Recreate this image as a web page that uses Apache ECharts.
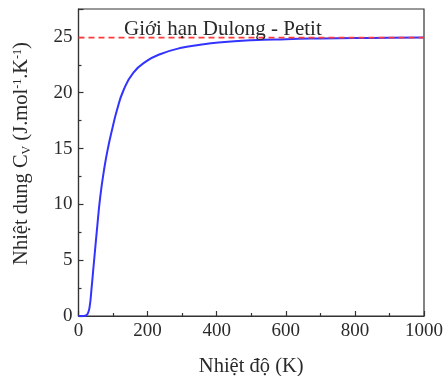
<!DOCTYPE html>
<html>
<head>
<meta charset="utf-8">
<script src="https://cdn.jsdelivr.net/npm/echarts@6/dist/echarts.min.js"></script>
<style>
  html, body { margin: 0; padding: 0; background: #fff; }
  #chart { width: 443px; height: 376px; }
</style>
</head>
<body>
<div id="chart"></div>
<script>
// temperature (K) and heat capacity Cv (J/mol/K)
const temps = [0, 15, 22, 28, 33, 37, 42, 47, 53, 63, 75, 87, 98, 111, 130, 159, 198, 236, 294, 352, 405, 500, 600, 700, 800, 900, 1000];
const cvValues = [0, 0, 0.05, 0.3, 1.0, 2.2, 3.9, 5.6, 7.6, 10.7, 13.3, 15.3, 16.8, 18.4, 20.2, 21.8, 22.85, 23.45, 24.0, 24.3, 24.5, 24.7, 24.8, 24.86, 24.9, 24.92, 24.94];
// Dulong - Petit limit
const limitX = [0, 1000];
const limitY = [24.94, 24.94];

const font = "'Liberation Serif', 'DejaVu Serif', serif";
const axisColor = "#333";
const textColor = "#2a2a2a";

const chart = echarts.init(document.getElementById("chart"));

const option = {
  animation: false,
  backgroundColor: "#fff",
  title: {
    text: "Giới hạn Dulong - Petit",
    left: 119,
    top: 14,
    textStyle: { fontFamily: font, fontSize: 21, fontWeight: "normal", color: textColor }
  },
  grid: {
    left: 78.5,
    right: 19,
    top: 9,
    bottom: 60,
    outerBoundsMode: "none",
    containLabel: false,
    show: true,
    borderColor: axisColor,
    borderWidth: 1.2,
    backgroundColor: "transparent"
  },
  xAxis: {
    type: "value",
    min: 0,
    max: 1000,
    interval: 200,
    name: "Nhiệt độ (K)",
    nameLocation: "middle",
    nameGap: 40,
    nameTextStyle: { fontFamily: font, fontSize: 20.5, color: textColor },
    axisLine: { show: true, lineStyle: { color: axisColor, width: 1.2 } },
    axisTick: { show: true, inside: true, length: 5, lineStyle: { color: axisColor, width: 1.2 } },
    minorTick: { show: true, splitNumber: 2, length: 3, lineStyle: { color: axisColor, width: 1.2 } },
    axisLabel: { fontFamily: font, fontSize: 19, color: textColor, margin: 6, formatter: (v) => String(v) },
    splitLine: { show: false }
  },
  yAxis: {
    type: "value",
    min: 0,
    max: 27.5,
    interval: 5,
    name: "Nhiệt dung C{sub|V} (J.mol{sup|-1}.K{sup|-1})",
    nameLocation: "middle",
    nameGap: 46,
    nameTextStyle: {
      fontFamily: font,
      fontSize: 20.5,
      color: textColor,
      padding: [0, 0, 0, 18],
      rich: {
        sub: { fontFamily: font, fontSize: 12, color: textColor, verticalAlign: "bottom", padding: [9, 0, 0, 0] },
        sup: { fontFamily: font, fontSize: 12, color: textColor, verticalAlign: "top", padding: [0, 0, 9, 0] }
      }
    },
    axisLine: { show: true, lineStyle: { color: axisColor, width: 1.2 } },
    axisTick: { show: true, inside: true, length: 5, lineStyle: { color: axisColor, width: 1.2 } },
    minorTick: { show: true, splitNumber: 2, length: 3, lineStyle: { color: axisColor, width: 1.2 } },
    axisLabel: { fontFamily: font, fontSize: 19, color: textColor, margin: 6, showMaxLabel: false },
    splitLine: { show: false }
  },
  series: [
    {
      name: "Dulong - Petit",
      type: "line",
      data: limitX.map((x, i) => [x, limitY[i]]),
      symbol: "none",
      lineStyle: { color: "#ff3a3a", width: 1.6, type: [6, 4] },
      z: 2
    },
    {
      name: "Cv",
      type: "line",
      data: temps.map((t, i) => [t, cvValues[i]]),
      smooth: 0.5,
      symbol: "none",
      lineStyle: { color: "#3333ff", width: 2 },
      z: 1
    }
  ]
};

chart.setOption(option);
</script>
</body>
</html>
